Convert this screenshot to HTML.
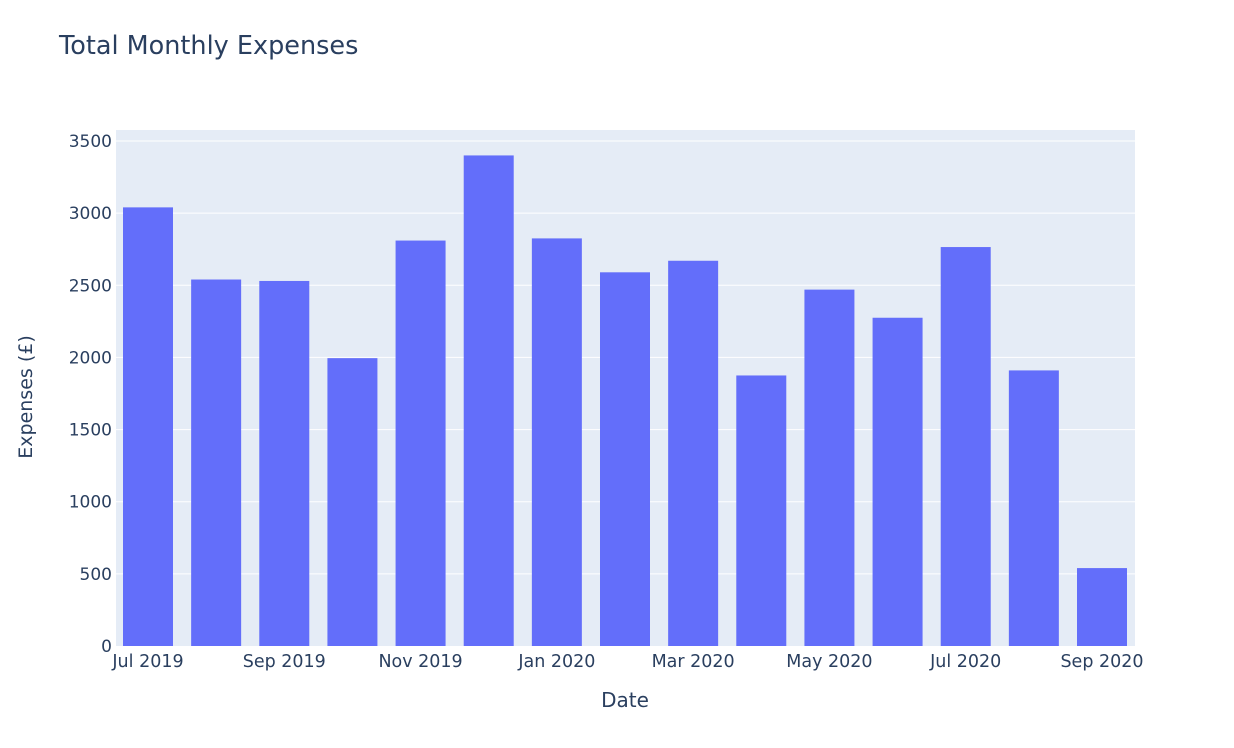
<!DOCTYPE html>
<html><head><meta charset="utf-8"><style>
body{margin:0;background:#fff;font-family:"DejaVu Sans","Liberation Sans",sans-serif;}
svg{display:block}
</style></head><body>
<svg id="chart" width="1234" height="748" font-family="DejaVu Sans, Liberation Sans, sans-serif">
<text x="59" y="54" font-size="25.5" fill="#2a3f5f">Total Monthly Expenses</text>
<rect x="116" y="130" width="1019" height="516" fill="#e5ecf6"/>
<g id="grid"></g><g id="bars"></g><g id="yticks"></g><g id="xticks"></g>
<text x="625" y="707" font-size="20" fill="#2a3f5f" text-anchor="middle">Date</text>
<text transform="translate(32,397) rotate(-90)" font-size="19" fill="#2a3f5f" text-anchor="middle">Expenses (£)</text>
</svg>
<script>
const months = ["Jul 2019","Aug 2019","Sep 2019","Oct 2019","Nov 2019","Dec 2019","Jan 2020","Feb 2020","Mar 2020","Apr 2020","May 2020","Jun 2020","Jul 2020","Aug 2020","Sep 2020"];
const expenses = [3040,2540,2530,1995,2810,3400,2825,2590,2670,1875,2470,2275,2765,1910,540];
const yTicks = [0,500,1000,1500,2000,2500,3000,3500];
const xTickLabels = ["Jul 2019","Sep 2019","Nov 2019","Jan 2020","Mar 2020","May 2020","Jul 2020","Sep 2020"];
const NS="http://www.w3.org/2000/svg";
const y0=646, yTop=141, yMax=3500;
function yScale(v){return y0-(v/yMax)*(y0-yTop);}
const c0=148, step=(1102-148)/14;
function xScale(i){return c0+i*step;}
const bw=50;
function mk(tag,attrs,parent){const e=document.createElementNS(NS,tag);for(const k in attrs)e.setAttribute(k,attrs[k]);document.getElementById(parent).appendChild(e);return e;}
yTicks.forEach(t=>{
  if(t>0){const g=mk('line',{x1:116,x2:1135,y1:yScale(t),y2:yScale(t),stroke:'#fff','stroke-width':1},'grid');
  
  }
  const tx=mk('text',{x:112,y:yScale(t)+6,'font-size':17,fill:'#2a3f5f','text-anchor':'end'},'yticks');
  tx.textContent=t;
  
  
});
expenses.forEach((v,i)=>{
  const r=mk('rect',{x:xScale(i)-bw/2,y:yScale(v),width:bw,height:y0-yScale(v),fill:'#636efa'},'bars');
  
  
});
xTickLabels.forEach(l=>{
  const i=months.indexOf(l);
  const tx=mk('text',{x:xScale(i),y:667,'font-size':17.5,fill:'#2a3f5f','text-anchor':'middle'},'xticks');
  tx.textContent=l;
  
  
});
</script>
</body></html>
